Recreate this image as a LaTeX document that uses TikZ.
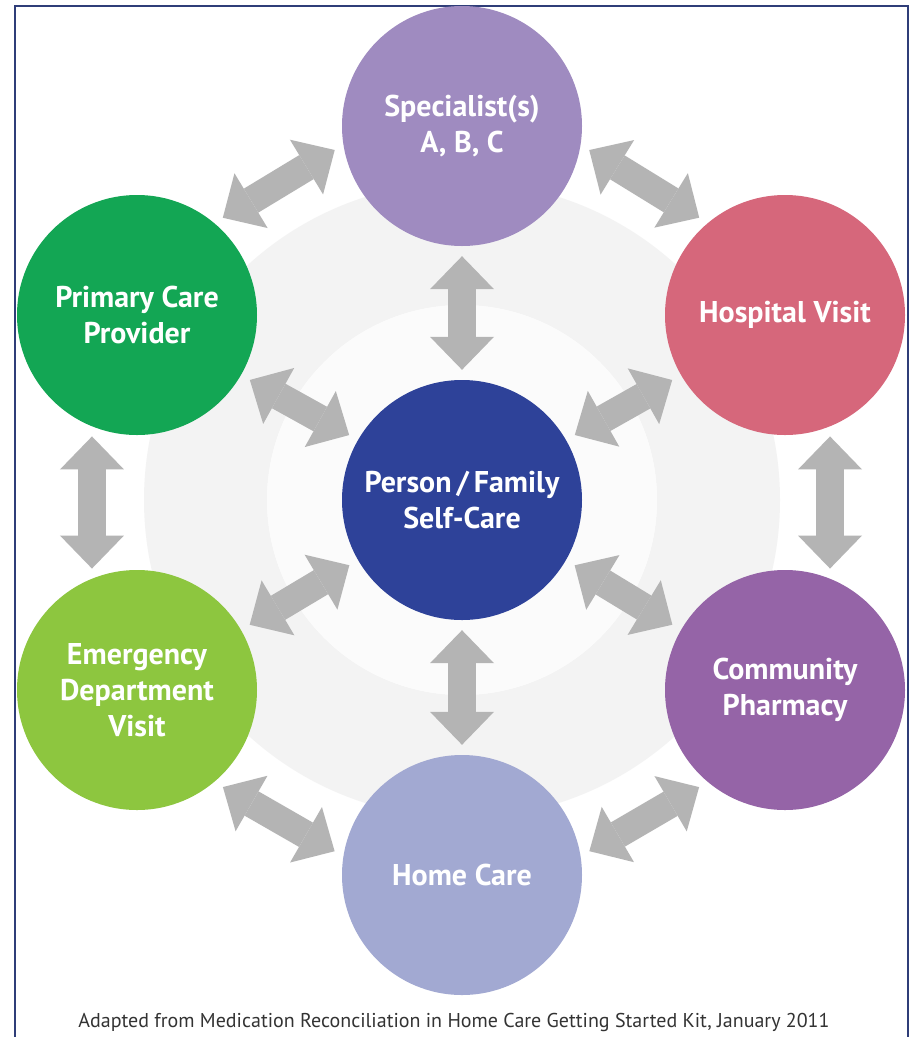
\documentclass[tikz,border=0pt]{standalone}
\usepackage{fontspec}
\setmainfont{PT Sans}
\usetikzlibrary{arrows.meta}
\definecolor{specc}{HTML}{9F8BC0}
\definecolor{hospc}{HTML}{D6677B}
\definecolor{primc}{HTML}{13A654}
\definecolor{personc}{HTML}{2E4299}
\definecolor{emerc}{HTML}{8DC63F}
\definecolor{pharmc}{HTML}{9564A7}
\definecolor{homec}{HTML}{A2A9D2}
\definecolor{arrgray}{HTML}{B4B4B4}
\definecolor{bordercol}{HTML}{2F3D78}
\definecolor{ringgray}{HTML}{F3F3F3}
\definecolor{innergray}{HTML}{FBFBFB}
\definecolor{capgray}{HTML}{333333}
\tikzset{
  circ/.style={circle, minimum size=240pt, inner sep=0pt, text=white,
    font=\bfseries\fontsize{30}{36}\selectfont, align=center},
  conn/.style={draw=arrgray, line width=28pt,
    {Triangle[length=33pt,width=64pt,line width=0pt]}-{Triangle[length=33pt,width=64pt,line width=0pt]},
    shorten <=10pt, shorten >=10pt},
  captext/.style={text=capgray, font=\fontsize{20}{24}\selectfont, inner sep=0pt}
}
\begin{document}
\begin{tikzpicture}[x=1pt,y=-1pt]
\useasboundingbox (0,0) rectangle (913,1037);
\fill[white] (0,0) rectangle (913,1037);
% background rings
\fill[ringgray, even odd rule] (462,500) circle[radius=318] (462,500) circle[radius=195];
\fill[innergray] (462,500) circle[radius=195];
% frame
\draw[bordercol, line width=1.6pt] (15,1037) -- (15,6) -- (908,6) -- (908,1037);
% nodes
\node[circ, fill=specc] (spec) at (462,126) {Specialist(s)\\A, B, C};
\node[circ, fill=hospc] (hosp) at (785,315) {Hospital Visit};
\node[circ, fill=primc] (prim) at (137,315) {Primary Care\\Provider};
\node[circ, fill=personc] (person) at (462,500) {Person\,/\,Family\\Self-Care};
\node[circ, fill=emerc] (emer) at (137,690) {Emergency\\Department\\Visit};
\node[circ, fill=pharmc] (pharm) at (785,690) {Community\\Pharmacy};
\node[circ, fill=homec] (home) at (462,875) {Home Care};
% connectors
\draw[conn] (spec.189) -- (prim.50);
\draw[conn] (spec.351) -- (hosp.130);
\draw[conn] (spec.270) -- (person.90);
\draw[conn] (prim.330) -- (person.150);
\draw[conn] (hosp.210) -- (person.30);
\draw[conn] (prim.248) -- (emer.112);
\draw[conn] (hosp.292) -- (pharm.68);
\draw[conn] (person.210) -- (emer.30);
\draw[conn] (person.330) -- (pharm.150);
\draw[conn] (person.270) -- (home.90);
\draw[conn] (emer.310) -- (home.171);
\draw[conn] (pharm.230) -- (home.9);
% caption
\node[captext] (cap) at (454,1022) {Adapted from Medication Reconciliation in Home Care Getting Started Kit, January 2011};
\end{tikzpicture}
\end{document}
